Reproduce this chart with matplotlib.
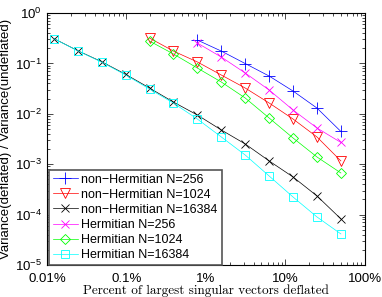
import matplotlib
matplotlib.use("Agg")
import matplotlib.pyplot as plt
from matplotlib.ticker import LogLocator, FixedLocator, FixedFormatter, NullFormatter

plt.rcParams['font.family'] = ['Liberation Sans', 'DejaVu Sans']
plt.rcParams['mathtext.default'] = 'regular'

# x = percent of singular vectors deflated
x_256 = [0.78125, 1.5625, 3.125, 6.25, 12.5, 25, 50]
x_1024 = [0.1953125, 0.390625, 0.78125, 1.5625, 3.125, 6.25, 12.5, 25, 50]
x_16384 = [0.01220703, 0.02441406, 0.04882813, 0.09765625, 0.1953125, 0.390625,
           0.78125, 1.5625, 3.125, 6.25, 12.5, 25, 50]

# variance ratios
nh_256 = [0.291, 0.176, 0.0995, 0.0562, 0.0283, 0.0130, 0.00446]
nh_1024 = [0.319, 0.176, 0.107, 0.0589, 0.0325, 0.0164, 0.00788, 0.00347, 0.00116]
nh_16384 = [0.312, 0.179, 0.108, 0.0608, 0.0325, 0.0171, 0.00946, 0.00478,
            0.00252, 0.00116, 0.000557, 0.000234, 8.2e-5]
h_256 = [0.254, 0.134, 0.0645, 0.0297, 0.0119, 0.00523, 0.00270]
h_1024 = [0.278, 0.154, 0.081, 0.0428, 0.0206, 0.00826, 0.00331, 0.00139, 0.000669]
h_16384 = [0.310, 0.178, 0.106, 0.059, 0.031, 0.0163, 0.00788, 0.00347,
           0.00152, 0.000583, 0.000223, 8.96e-5, 4.12e-5]

series = [
    (x_256, nh_256, '#0000ff', '+', 8, 'non\u2212Hermitian N=256'),
    (x_1024, nh_1024, '#ff0000', 'v', 7, 'non\u2212Hermitian N=1024'),
    (x_16384, nh_16384, '#000000', 'x', 5.5, 'non\u2212Hermitian N=16384'),
    (x_256, h_256, '#ff00ff', 'x', 5.5, 'Hermitian N=256'),
    (x_1024, h_1024, '#00ff00', 'D', 5.5, 'Hermitian N=1024'),
    (x_16384, h_16384, '#00ffff', 's', 5.5, 'Hermitian N=16384'),
]

fig = plt.figure(figsize=(3.82, 2.97), dpi=100)
ax = fig.add_axes([0.123, 0.108, 0.832, 0.848])

for xs, ys, c, m, ms, lab in series:
    ax.plot(xs, ys, color=c, marker=m, markersize=ms, markerfacecolor='none',
            markeredgecolor=c, linewidth=0.5, markeredgewidth=0.6, label=lab)

ax.set_xscale('log')
ax.set_yscale('log')
ax.set_xlim(0.01, 100)
ax.set_ylim(1e-5, 1)

ax.xaxis.set_major_locator(FixedLocator([0.01, 0.1, 1, 10, 100]))
ax.xaxis.set_major_formatter(FixedFormatter(['0.01%', '0.1%', '1%', '10%', '100%']))
ax.xaxis.set_minor_locator(LogLocator(base=10, subs=range(2, 10), numticks=20))
ax.xaxis.set_minor_formatter(NullFormatter())
ax.yaxis.set_minor_locator(LogLocator(base=10, subs=range(2, 10), numticks=20))
ax.yaxis.set_minor_formatter(NullFormatter())

ax.tick_params(which='both', direction='in', top=True, right=True, labelsize=9.5, width=0.5)
ax.tick_params(which='major', length=4)
ax.tick_params(which='minor', length=2)
ax.tick_params(axis='x', which='major', pad=5.5)
for s in ax.spines.values():
    s.set_linewidth(0.8)

ax.set_ylabel('Variance(deflated) / Variance(undeflated)', fontsize=9.5, labelpad=2)
ax.set_xlabel('Percent of largest singular vectors deflated', fontsize=9.5,
              family='cmr10', labelpad=0)

leg = ax.legend(loc='lower left', bbox_to_anchor=(0.006, 0.0), borderaxespad=0,
                fontsize=9.0, handlelength=2.0, handletextpad=0.3, labelspacing=0.25,
                borderpad=0.3, fancybox=False, framealpha=1)
leg.get_frame().set_edgecolor('#555555')
leg.get_frame().set_linewidth(1.2)

fig.savefig('out.png', dpi=100)
